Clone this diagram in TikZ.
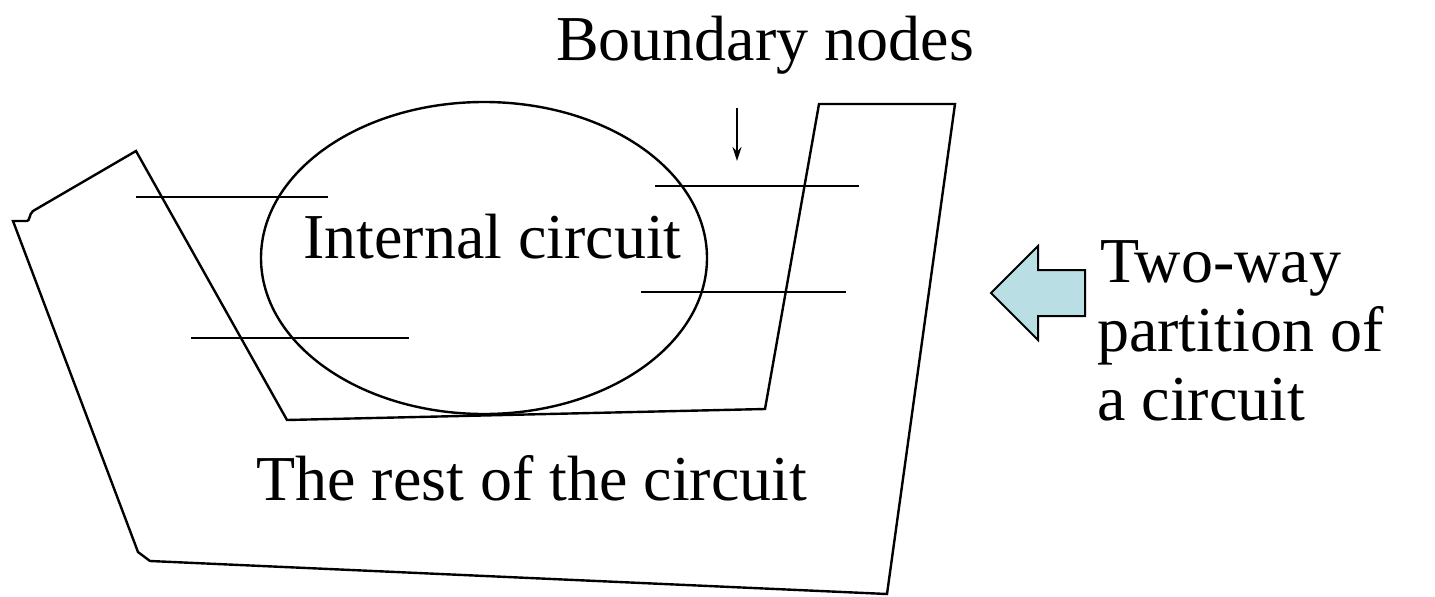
\documentclass[tikz,border=0pt]{standalone}
\usepackage{fontspec}
\setmainfont{Liberation Serif}
\usetikzlibrary{arrows.meta}
\definecolor{arrowfill}{RGB}{185,222,228}
\tikzset{
  edge/.style={line width=2.4pt, line join=miter},
  lbl/.style={inner sep=0pt, anchor=base west, font=\fontsize{64}{75}\selectfont},
  wire/.style={line width=2.4pt},
}
\begin{document}
\begin{tikzpicture}[x=1pt,y=-1pt]
\useasboundingbox (0,0) rectangle (1435,597);
% outer region
\draw[edge] (13,221) -- (27,221) .. controls (30,221) and (29,214) .. (33,211)
  -- (136,151) -- (287,420) -- (765,409) -- (819,104) -- (955,104)
  -- (887,594) -- (150,561) -- (138,552) -- cycle;
% internal circuit
\draw[edge] (484,258) ellipse [x radius=223, y radius=156];
% boundary wires
\coordinate (w1a) at (136,197); \coordinate (w1b) at (328,197);
\coordinate (w2a) at (655,186); \coordinate (w2b) at (859,186);
\coordinate (w3a) at (641,292); \coordinate (w3b) at (846,292);
\coordinate (w4a) at (191,338); \coordinate (w4b) at (409,338);
\draw[wire] (w1a) -- (w1b);
\draw[wire] (w2a) -- (w2b);
\draw[wire] (w3a) -- (w3b);
\draw[wire] (w4a) -- (w4b);
% labels
\node[lbl] (bn) at (556,60) {Boundary nodes};
\node[lbl] (ic) at (303,258) {Internal circuit};
\node[lbl] (rc) at (256,500) {The rest of the circuit};
\node[lbl] (t1) at (1100,282) {Two-way};
\node[lbl] (t2) at (1097,351) {partition of};
\node[lbl] (t3) at (1097,420) {a circuit};
% pointer
\coordinate (ps) at (737,108);
\coordinate (pe) at (737,161);
\draw[line width=1.8pt, -{Stealth[length=14pt,width=9pt]}] (ps) -- (pe);
% block arrow
\draw[line width=2pt, fill=arrowfill, line join=miter]
  (991,293) -- (1038,246) -- (1038,270) -- (1085,270) -- (1085,316)
  -- (1038,316) -- (1038,340) -- cycle;
\end{tikzpicture}
\end{document}
